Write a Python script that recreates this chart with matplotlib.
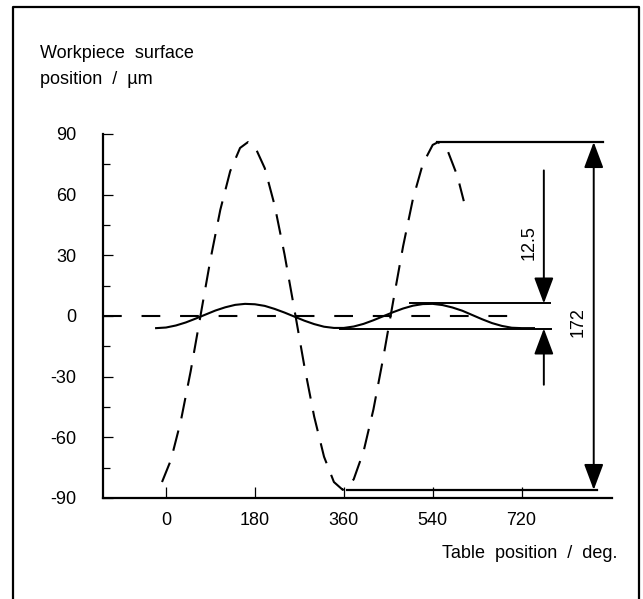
import matplotlib.pyplot as plt
from matplotlib.lines import Line2D

plt.rcParams['font.family'] = ['Liberation Sans', 'DejaVu Sans']
plt.rcParams['axes.unicode_minus'] = False

# table position (deg) and workpiece surface position (um)
x_dash = [-8, 10, 30, 50, 70, 90, 110, 130, 150, 166, 180, 200, 220, 240, 260, 280,
          300, 320, 340, 358, 380, 400, 420, 440, 460, 480, 500, 520, 540, 551, 570, 590, 603]
y_dash = [-82.1, -71.2, -52.0, -27.3, 0.3, 27.9, 52.5, 71.6, 83.1, 86.0, 83.8, 73.1, 54.7,
          30.5, 3.2, -24.6, -49.7, -69.6, -82.1, -86.0, -80.8, -67.0, -46.2, -20.5, 7.3,
          34.4, 57.9, 75.2, 84.6, 86.0, 81.9, 69.2, 56.8]

x_solid = [-20, 0, 20, 40, 60, 80, 100, 120, 140, 160, 180, 200, 220, 240, 260, 280, 300,
           320, 340, 360, 380, 400, 420, 440, 460, 480, 500, 520, 540, 560, 580, 600, 620,
           640, 660, 680, 700, 720, 745]
y_solid = [-6.0, -5.7, -4.7, -3.2, -1.3, 0.7, 2.7, 4.3, 5.5, 6.0, 5.8, 5.0, 3.5, 1.7, -0.3,
           -2.3, -4.0, -5.3, -5.9, -5.9, -5.2, -3.9, -2.1, -0.1, 1.9, 3.7, 5.1, 5.9, 6.0,
           5.4, 4.2, 2.6, 0.5, -1.6, -3.5, -4.9, -5.8, -6.0, -6.0]

xticks = [0, 180, 360, 540, 720]
yticks = [90, 60, 30, 0, -30, -60, -90]
big_amp = 86      # -> 172
small_amp = 6.2   # -> 12.5

fig = plt.figure(figsize=(6.43, 5.99), dpi=100)
W, H = 643, 599
ax = fig.add_axes([103 / W, 1 - 498 / H, (612 - 103) / W, (498 - 134) / H])
ax.set_xlim(-127.5, 903)
ax.set_ylim(-90, 90)

ax.plot(x_dash, y_dash, color='black', lw=1.5, linestyle=(0, (10, 6)), clip_on=False)
ax.plot(x_solid, y_solid, color='black', lw=1.5, clip_on=False)
ax.plot([-127.5, 710], [0, 0], color='black', lw=1.5, linestyle=(0, (9, 9.5)))

# reference lines
ax.plot([549, 885], [big_amp, big_amp], color='black', lw=1.6, clip_on=False)
ax.plot([366, 872], [-big_amp, -big_amp], color='black', lw=1.6, clip_on=False)
ax.plot([494, 777], [small_amp, small_amp], color='black', lw=1.4, clip_on=False)
ax.plot([352, 779], [-small_amp, -small_amp], color='black', lw=1.4, clip_on=False)

arrow = dict(arrowstyle='-|>,head_length=0.8,head_width=0.3', color='black', lw=1.4,
             shrinkA=0, shrinkB=0, mutation_scale=20)
darrow = dict(arrow, arrowstyle='<|-|>,head_length=0.8,head_width=0.3')
ax.annotate('', xy=(866, big_amp), xytext=(866, -big_amp), arrowprops=darrow,
            annotation_clip=False)
ax.annotate('', xy=(765, small_amp), xytext=(765, 72), arrowprops=arrow,
            annotation_clip=False)
ax.annotate('', xy=(765, -small_amp), xytext=(765, -34), arrowprops=arrow,
            annotation_clip=False)
ax.text(735, 36.5, '12.5', rotation=90, ha='center', va='center', fontsize=13)
ax.text(834, -3, '172', rotation=90, ha='center', va='center', fontsize=13)

# axes
for s in ['top', 'right']:
    ax.spines[s].set_visible(False)
for s in ['left', 'bottom']:
    ax.spines[s].set_linewidth(1.6)
ax.set_xticks(xticks)
ax.set_yticks(yticks)
ax.set_yticks([75, 45, 15, -15, -45, -75], minor=True)
ax.tick_params(axis='y', which='major', direction='in', length=7, width=0.9, pad=19,
               labelsize=13)
ax.tick_params(axis='y', which='minor', direction='in', length=5, width=0.9)
ax.tick_params(axis='x', which='major', direction='in', length=8, width=0.9, pad=10,
               labelsize=13)

fig.text(40 / W, 1 - 53 / H, 'Workpiece  surface', fontsize=13, va='center', ha='left')
fig.text(40 / W, 1 - 80 / H, 'position  /  µm', fontsize=13, va='center', ha='left')
fig.text(617 / W, 1 - 553 / H, 'Table  position  /  deg.', fontsize=13, va='center',
         ha='right')

# frame round the figure
fig.add_artist(Line2D([13 / W, 13 / W, 639 / W, 639 / W], [0, 1 - 7 / H, 1 - 7 / H, 0],
                      color='black', lw=1.6))

fig.savefig('out.png', dpi=100)
